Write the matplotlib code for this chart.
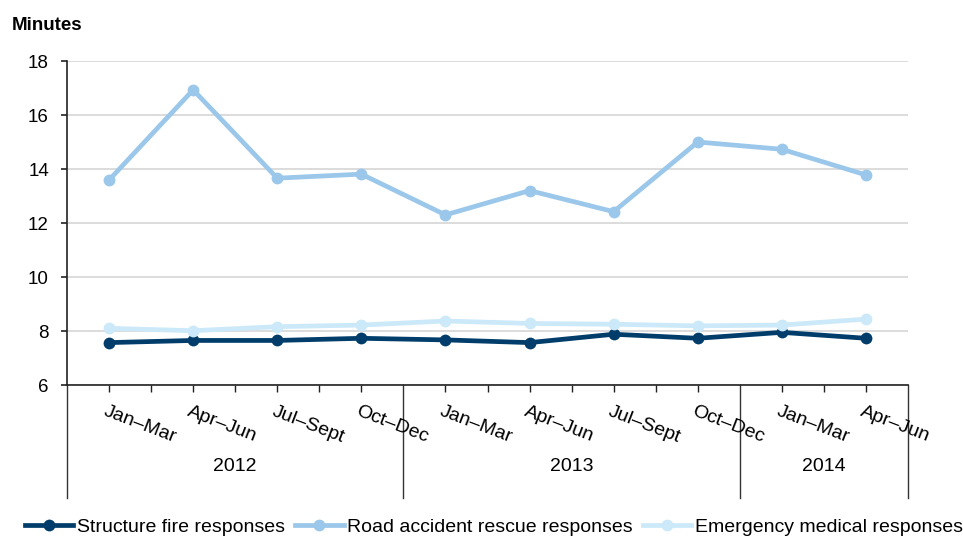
import matplotlib
matplotlib.use("Agg")
import matplotlib.pyplot as plt
import matplotlib.transforms as mtransforms
import numpy as np

plt.rcParams['font.family'] = ['Liberation Sans', 'DejaVu Sans']

# Quarterly response times (minutes)
quarters = ["Jan–Mar", "Apr–Jun", "Jul–Sept", "Oct–Dec",
            "Jan–Mar", "Apr–Jun", "Jul–Sept", "Oct–Dec",
            "Jan–Mar", "Apr–Jun"]
years = ["2012", "2013", "2014"]
year_sizes = [4, 4, 2]

structure_fire = [7.57, 7.65, 7.65, 7.73, 7.67, 7.57, 7.88, 7.73, 7.95, 7.73]
road_accident = [13.59, 16.93, 13.66, 13.81, 12.30, 13.20, 12.42, 15.00, 14.73, 13.78]
emergency_medical = [8.10, 8.01, 8.16, 8.22, 8.37, 8.28, 8.25, 8.19, 8.22, 8.44]

series_names = ["Structure fire responses", "Road accident rescue responses",
                "Emergency medical responses"]
series_colors = ["#003D6B", "#9AC7EA", "#CBE9F9"]

fig = plt.figure(figsize=(9.63, 5.38), dpi=100)
ax = fig.add_axes([67 / 963, 1 - 385 / 538, (908 - 67) / 963, (385 - 61) / 538])

x = np.arange(len(quarters))
for vals, name, col in zip([structure_fire, road_accident, emergency_medical],
                           series_names, series_colors):
    ax.plot(x, vals, color=col, lw=3.4, marker='o', markersize=8.5,
            markeredgewidth=0, label=name, solid_joinstyle='round', zorder=3)

ax.set_xlim(-0.5, len(quarters) - 0.5)
ax.set_ylim(6, 18)
ax.set_yticks(np.arange(6, 19, 2))
ax.yaxis.grid(True, color='#D9D9D9', lw=1.3, zorder=0)
ax.set_axisbelow(True)

for side in ['top', 'right']:
    ax.spines[side].set_visible(False)
ax.spines['left'].set_color('#222222')
ax.spines['bottom'].set_color('#222222')
ax.spines['left'].set_linewidth(1.2)
ax.spines['bottom'].set_linewidth(1.2)

ax.tick_params(axis='y', direction='out', length=4, width=1.2, color='#222222',
               pad=9, labelsize=13.5)

# Short ticks at category centres and boundaries, long separators between years
bounds = np.concatenate([[0], np.cumsum(year_sizes)]) - 0.5
half_ticks = [t for t in np.arange(-0.5, len(quarters), 0.5) if t not in bounds]
ax.set_xticks(half_ticks)
ax.set_xticklabels([])
ax.tick_params(axis='x', direction='out', length=5, width=1.0, color='#222222')

trans = mtransforms.blended_transform_factory(ax.transData, ax.transAxes)
for b in bounds:
    ax.plot([b, b], [0, -0.349], transform=trans, color='#333333', lw=1.0,
            clip_on=False)

# Rotated quarter labels
for i, q in enumerate(quarters):
    ax.text(i - 0.02, -0.055, q, transform=trans, rotation=-21,
            rotation_mode='anchor', ha='left', va='top', fontsize=14)

# Year labels centred under each group
for yr, lo, hi in zip(years, bounds[:-1], bounds[1:]):
    ax.text((lo + hi) / 2, -0.253, yr, transform=trans, ha='center',
            va='center', fontsize=14)

fig.text(12 / 963, 1 - 25 / 538, "Minutes", fontweight='bold', fontsize=13.5,
         va='center', ha='left')

fig.legend(loc='center', bbox_to_anchor=(494 / 963, 1 - 527 / 538), ncol=3,
           frameon=False, fontsize=14, handlelength=2.5, handletextpad=0.2,
           columnspacing=0.5, borderaxespad=0, borderpad=0)

fig.savefig("out.png", dpi=100)
